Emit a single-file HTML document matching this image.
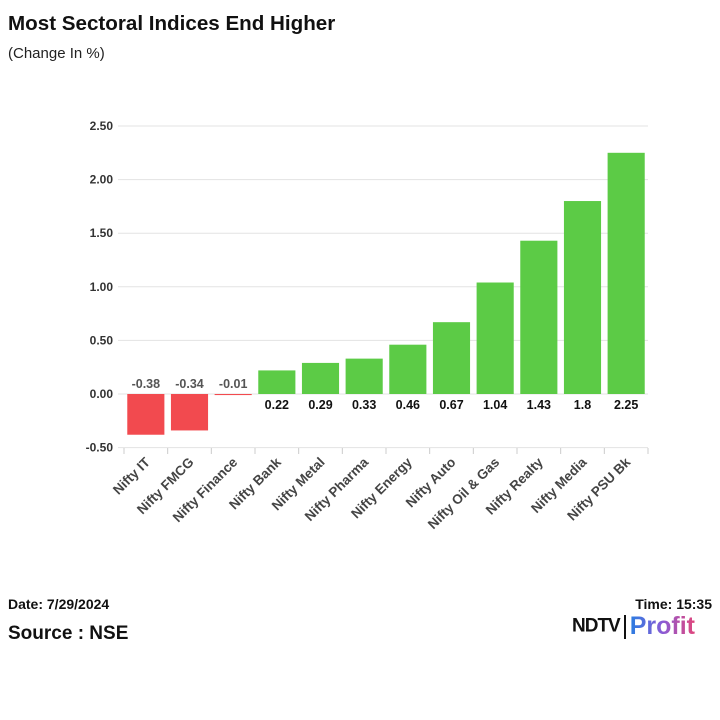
<!DOCTYPE html>
<html><head><meta charset="utf-8"><style>
body{margin:0;background:#fff;font-family:"Liberation Sans",sans-serif;}
#wrap{position:relative;width:720px;height:720px;overflow:hidden;background:#fff}
</style></head><body>
<div id="wrap">
<div style="position:absolute;left:8px;top:12px;font-size:20.6px;font-weight:bold;color:#111">Most Sectoral Indices End Higher</div>
<div style="position:absolute;left:8px;top:45px;font-size:15px;color:#222">(Change In %)</div>
<svg id="chart" width="720" height="720" style="position:absolute;left:0;top:0"></svg>
<div style="position:absolute;left:8px;top:596px;font-size:14px;font-weight:bold;color:#111">Date: 7/29/2024</div>
<div style="position:absolute;right:8px;top:596px;font-size:14px;font-weight:bold;color:#111">Time: 15:35</div>
<div style="position:absolute;left:8px;top:623px;font-size:19px;font-weight:bold;color:#111">Source : NSE</div>
<div style="position:absolute;left:572px;top:612px;height:30px;white-space:nowrap">
<span style="font-size:19px;font-weight:900;color:#111;letter-spacing:-1px;vertical-align:middle">NDTV</span><span style="display:inline-block;width:2px;height:24px;background:#111;margin:0 4px;vertical-align:middle"></span><span style="font-size:25px;font-weight:bold;vertical-align:middle;background:linear-gradient(90deg,#2a7de1,#8a5bd6,#e0457b);-webkit-background-clip:text;background-clip:text;color:transparent">Profit</span>
</div>
</div>
<script>
const categories=["Nifty IT","Nifty FMCG","Nifty Finance","Nifty Bank","Nifty Metal","Nifty Pharma","Nifty Energy","Nifty Auto","Nifty Oil & Gas","Nifty Realty","Nifty Media","Nifty PSU Bk"];
const values=[-0.38,-0.34,-0.01,0.22,0.29,0.33,0.46,0.67,1.04,1.43,1.8,2.25];
const valueLabels=["-0.38","-0.34","-0.01","0.22","0.29","0.33","0.46","0.67","1.04","1.43","1.8","2.25"];
const ticks=[-0.5,0,0.5,1,1.5,2,2.5];
const tickLabels=["-0.50","0.00","0.50","1.00","1.50","2.00","2.50"];
const svg=document.getElementById('chart');const NS="http://www.w3.org/2000/svg";
const x0=124,x1=648,yZero=394,pxPerUnit=107.2;
const band=(x1-x0)/categories.length;
function y(v){return yZero-v*pxPerUnit;}
function xc(i){return x0+band*(i+0.5);}
function mk(t,a,txt){const e=document.createElementNS(NS,t);for(const k in a)e.setAttribute(k,a[k]);if(txt!==undefined)e.textContent=txt;svg.appendChild(e);return e;}
ticks.forEach((t,i)=>{
 const g=mk('line',{x1:118,x2:x1,y1:y(t),y2:y(t),stroke:'#e3e3e3','stroke-width':1});
 
 
 const l=mk('text',{x:113,y:y(t)+4,'text-anchor':'end','font-size':12,'font-weight':'bold',fill:'#333'},tickLabels[i]);
 
 
});
const bw=band*0.85;
values.forEach((v,i)=>{
 const top=Math.min(y(v),yZero),h=Math.max(Math.abs(y(v)-yZero),1);
 const r=mk('rect',{x:xc(i)-bw/2,y:top,width:bw,height:h,fill:v<0?'#f24a4f':'#5ccb46'});
 
 
 const lbl=v<0?mk('text',{x:xc(i),y:yZero-6,'text-anchor':'middle','font-size':12.5,'font-weight':'bold',fill:'#555'},valueLabels[i]):mk('text',{x:xc(i),y:yZero+15,'text-anchor':'middle','font-size':12.5,'font-weight':'bold',fill:'#111'},valueLabels[i]);
 
 
 const tk=mk('line',{x1:x0+band*i,x2:x0+band*i,y1:448,y2:454,stroke:'#ccc'});
 
 
 const cl=mk('text',{x:xc(i)+5,y:463,'text-anchor':'end','font-size':13.5,'font-weight':'bold',fill:'#444',transform:`rotate(-45 ${xc(i)+5} 463)`},categories[i]);
 
 
});
const lt=mk('line',{x1:x1,x2:x1,y1:448,y2:454,stroke:'#ccc'});


</script>
</body></html>
